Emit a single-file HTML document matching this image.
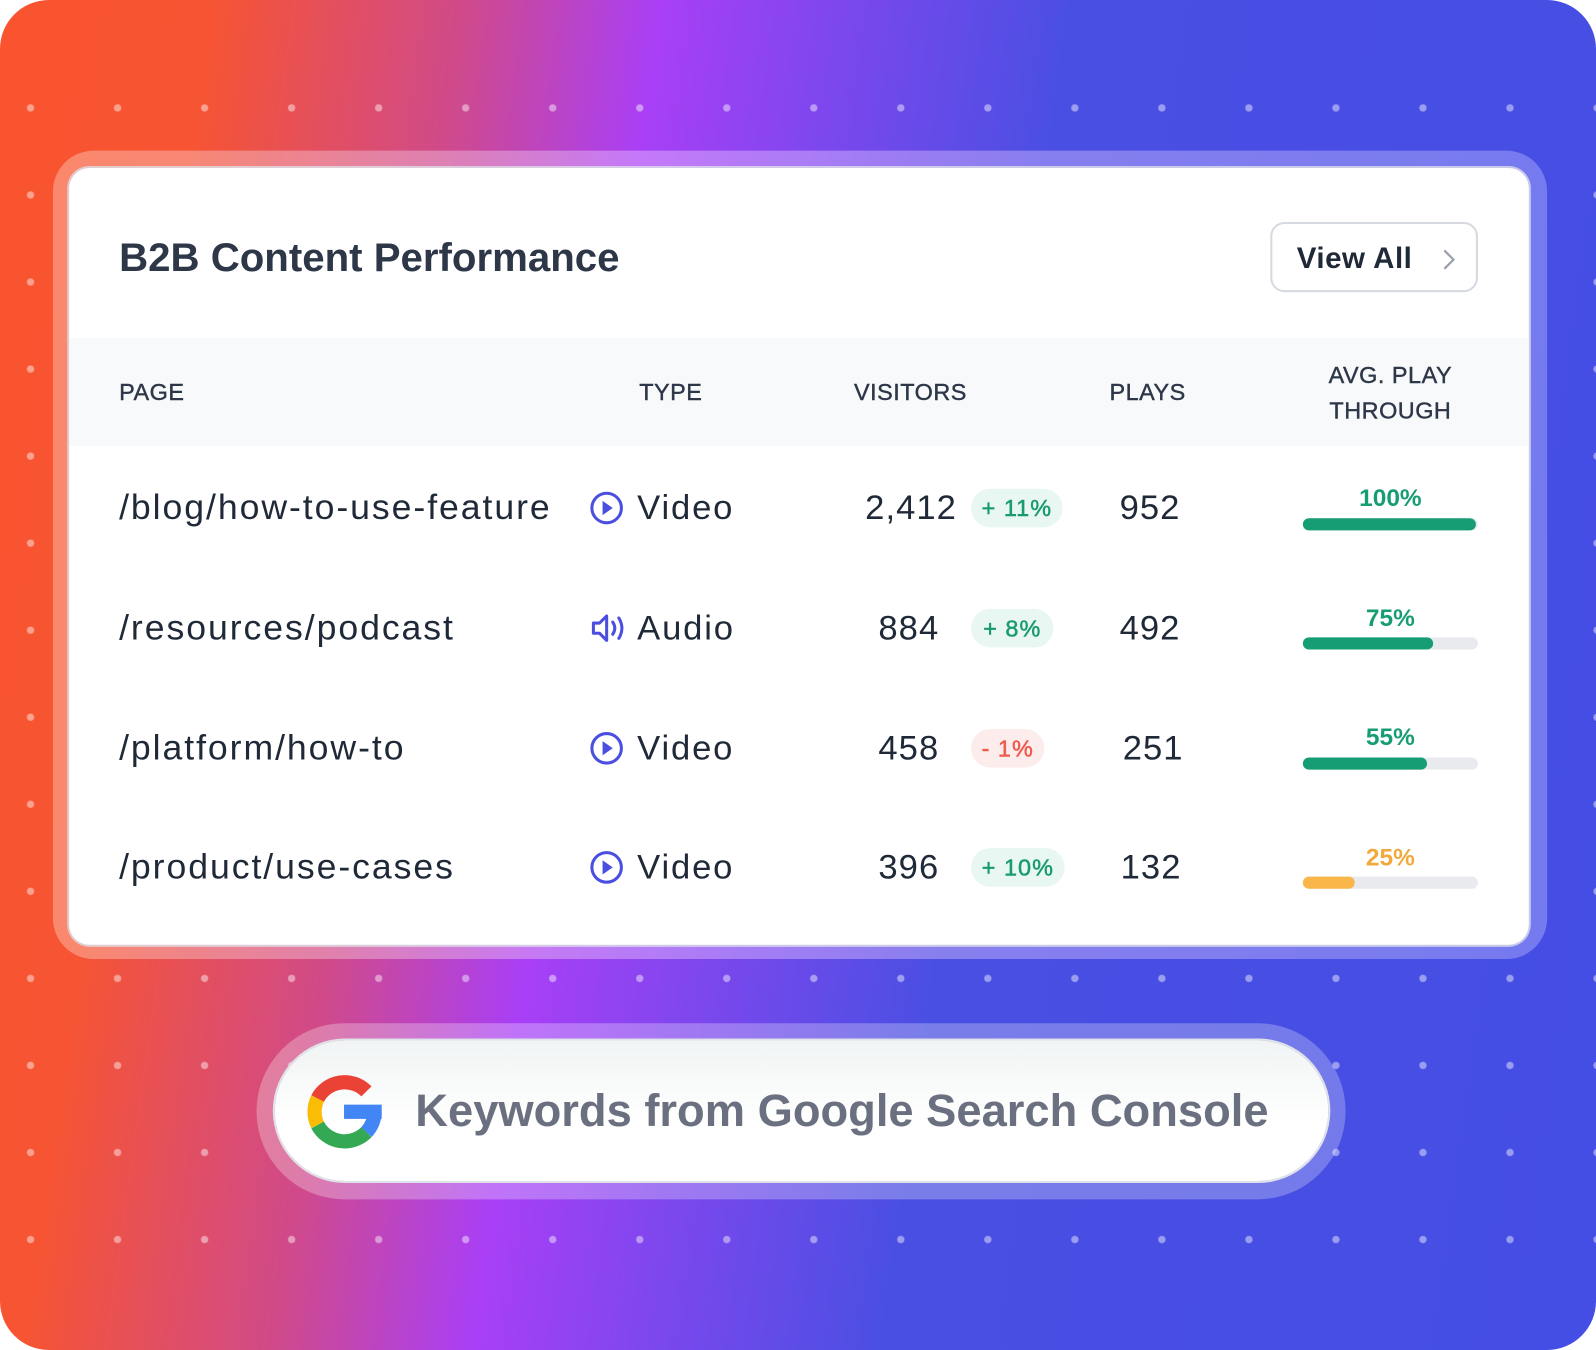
<!DOCTYPE html>
<html><head><meta charset="utf-8"><style>
html,body{margin:0;padding:0;width:1596px;height:1350px;overflow:hidden;background:#fff}
#w{position:absolute;left:0;top:0;width:1568px;height:1326px;transform:scale(1.01786,1.0181);transform-origin:0 0}
.bg{position:absolute;left:0;top:0;width:1568px;height:1326px;border-radius:48px;overflow:hidden;
background:linear-gradient(98deg,#f9542f 0%,#f65433 12%,#d04a8a 26%,#a93ff6 37%,#7d47ee 47%,#4a4fe3 60%,#444de4 100%)}
.dots{position:absolute;left:0;top:63px;width:1568px;height:1200px;
background-image:radial-gradient(circle,rgba(255,255,255,.45) 0 3.2px,transparent 4px);
background-size:85.5px 85.5px;background-position:-12.75px 0.25px}
.halo{position:absolute;left:52px;top:148px;width:1468px;height:794px;border-radius:40px;
background:linear-gradient(90deg,rgba(255,200,180,.45),rgba(230,190,255,.45) 40%,rgba(190,190,255,.4));}
.card{position:absolute;left:68px;top:165px;width:1434px;height:763px;border-radius:20px;background:#fff;overflow:hidden;box-shadow:0 0 0 2px rgba(220,222,230,.8)}
.t{position:absolute;font-family:"Liberation Sans",sans-serif;color:#1f2937;white-space:nowrap}
.title{left:49px;top:66px;font-size:39.5px;font-weight:bold;color:#2d3748}
.btn{position:absolute;left:1180px;top:53px;width:204px;height:69px;border:2px solid #d6d9e0;border-radius:14px;box-sizing:border-box}
.hdr{position:absolute;left:0;top:167px;width:1434px;height:106px;background:#f8f9fb}
.h{font-size:23px;color:#2d3748;letter-spacing:.5px;-webkit-text-stroke:0.4px #2d3748}
.cell{font-size:34px;color:#1f2937;letter-spacing:1.8px}
.pg{font-size:35px;color:#1f2937;letter-spacing:1.9px}
.num{font-size:34px;color:#1f2937;letter-spacing:1px}
.badge{position:absolute;height:38px;border-radius:19px;font-family:"Liberation Sans",sans-serif;font-size:23px;line-height:38px;text-align:center;letter-spacing:1px;-webkit-text-stroke:0.5px currentColor}
.g{background:#e8f7f1;color:#1a9b6f}.r{background:#fdecec;color:#ef5a4f}
.bar{position:absolute;left:1212px;width:172px;height:12px;border-radius:6px;background:#e8eaee}
.bar i{position:absolute;left:0;top:0;height:12px;border-radius:6px;background:#179d73}
.pct{font-size:24px;font-weight:bold;color:#179d73;width:172px;text-align:center}
.ph{position:absolute;left:252px;top:1005px;width:1070px;height:173px;border-radius:87px;background:linear-gradient(90deg,rgba(255,255,255,.28),rgba(255,255,255,.25))}
.pill{position:absolute;left:270px;top:1022px;width:1035px;height:138px;border-radius:69px;background:linear-gradient(#f1f4f4,#fff 60%);box-shadow:0 0 0 2px #dfe2e8}
</style></head><body><div id="w">
<div class="bg"><div class="dots"></div></div>
<div class="halo"></div>
<div class="card">
 <div class="t title">B2B Content Performance</div>
 <div class="btn"><div class="t" style="left:24px;top:18px;font-size:29px;font-weight:bold;color:#1f2937;letter-spacing:.5px">View All</div>
  <svg style="position:absolute;left:166px;top:23px" width="16" height="24"><path d="M3 3 L12 12 L3 21" fill="none" stroke="#9aa0ac" stroke-width="2.2"/></svg></div>
 <div class="hdr"></div>
 <div class="t h" style="left:49px;top:207px">PAGE</div>
 <div class="t h" style="left:560px;top:207px">TYPE</div>
 <div class="t h" style="left:771px;top:207px">VISITORS</div>
 <div class="t h" style="left:1022px;top:207px">PLAYS</div>
 <div class="t h" style="left:1212px;top:186px;width:172px;text-align:center;line-height:35px">AVG. PLAY<br>THROUGH</div>

 <div class="t pg" style="left:49px;top:314px">/blog/how-to-use-feature</div>
 <div class="t pg" style="left:49px;top:432px">/resources/podcast</div>
 <div class="t pg" style="left:49px;top:550px">/platform/how-to</div>
 <div class="t pg" style="left:49px;top:667px">/product/use-cases</div>

 <svg style="position:absolute;left:511px;top:317px" width="34" height="34"><circle cx="17" cy="17" r="14.5" fill="none" stroke="#4b4fe0" stroke-width="3"/><path d="M13 10 L23 17 L13 24Z" fill="#4b4fe0"/></svg>
 <svg style="position:absolute;left:511px;top:435px" width="36" height="34"><path d="M4 12 H10 L17 5 V29 L10 22 H4Z" fill="none" stroke="#4b4fe0" stroke-width="3" stroke-linejoin="round"/><path d="M23 11 Q27 17 23 23" fill="none" stroke="#4b4fe0" stroke-width="3" stroke-linecap="round"/><path d="M29 7 Q35 17 29 27" fill="none" stroke="#4b4fe0" stroke-width="3" stroke-linecap="round"/></svg>
 <svg style="position:absolute;left:511px;top:553px" width="34" height="34"><circle cx="17" cy="17" r="14.5" fill="none" stroke="#4b4fe0" stroke-width="3"/><path d="M13 10 L23 17 L13 24Z" fill="#4b4fe0"/></svg>
 <svg style="position:absolute;left:511px;top:670px" width="34" height="34"><circle cx="17" cy="17" r="14.5" fill="none" stroke="#4b4fe0" stroke-width="3"/><path d="M13 10 L23 17 L13 24Z" fill="#4b4fe0"/></svg>
 <div class="t cell" style="left:558px;top:315px">Video</div>
 <div class="t cell" style="left:558px;top:433px">Audio</div>
 <div class="t cell" style="left:558px;top:551px">Video</div>
 <div class="t cell" style="left:558px;top:668px">Video</div>

 <div class="t num" style="left:782px;top:315px">2,412</div>
 <div class="t num" style="left:795px;top:433px">884</div>
 <div class="t num" style="left:795px;top:551px">458</div>
 <div class="t num" style="left:795px;top:668px">396</div>
 <div class="badge g" style="left:886px;top:315px;width:90px">+ 11%</div>
 <div class="badge g" style="left:886px;top:433px;width:81px">+ 8%</div>
 <div class="badge r" style="left:886px;top:551px;width:72px">- 1%</div>
 <div class="badge g" style="left:886px;top:668px;width:92px">+ 10%</div>

 <div class="t num" style="left:1032px;top:315px">952</div>
 <div class="t num" style="left:1032px;top:433px">492</div>
 <div class="t num" style="left:1035px;top:551px">251</div>
 <div class="t num" style="left:1033px;top:668px">132</div>

 <div class="t pct" style="left:1212px;top:311px">100%</div>
 <div class="bar" style="top:344px"><i style="width:170px"></i></div>
 <div class="t pct" style="left:1212px;top:429px">75%</div>
 <div class="bar" style="top:461px"><i style="width:128px"></i></div>
 <div class="t pct" style="left:1212px;top:546px">55%</div>
 <div class="bar" style="top:579px"><i style="width:122px"></i></div>
 <div class="t pct" style="left:1212px;top:664px;color:#f0a93a">25%</div>
 <div class="bar" style="top:696px"><i style="width:51px;background:#fbb64a"></i></div>
</div>

<div class="ph"></div>
<div class="pill">
 <svg style="position:absolute;left:28px;top:30px" width="80" height="80" viewBox="0 0 80 80">
  <g fill="none" stroke-width="14">
   <path d="M62 20 A30 30 0 0 0 14 27" stroke="#ea4335"/>
   <path d="M14 27 A30 30 0 0 0 14 53" stroke="#fbbc05"/>
   <path d="M14 53 A30 30 0 0 0 62 60" stroke="#34a853"/>
   <path d="M62 60 A30 30 0 0 0 70 40" stroke="#4285f4"/>
  </g>
  <rect x="40" y="33" width="37" height="14" fill="#4285f4"/>
 </svg>
 <div class="t" style="left:138px;top:45px;font-size:44.5px;font-weight:bold;color:#6b7080">Keywords from Google Search Console</div>
</div>
</div></body></html>
